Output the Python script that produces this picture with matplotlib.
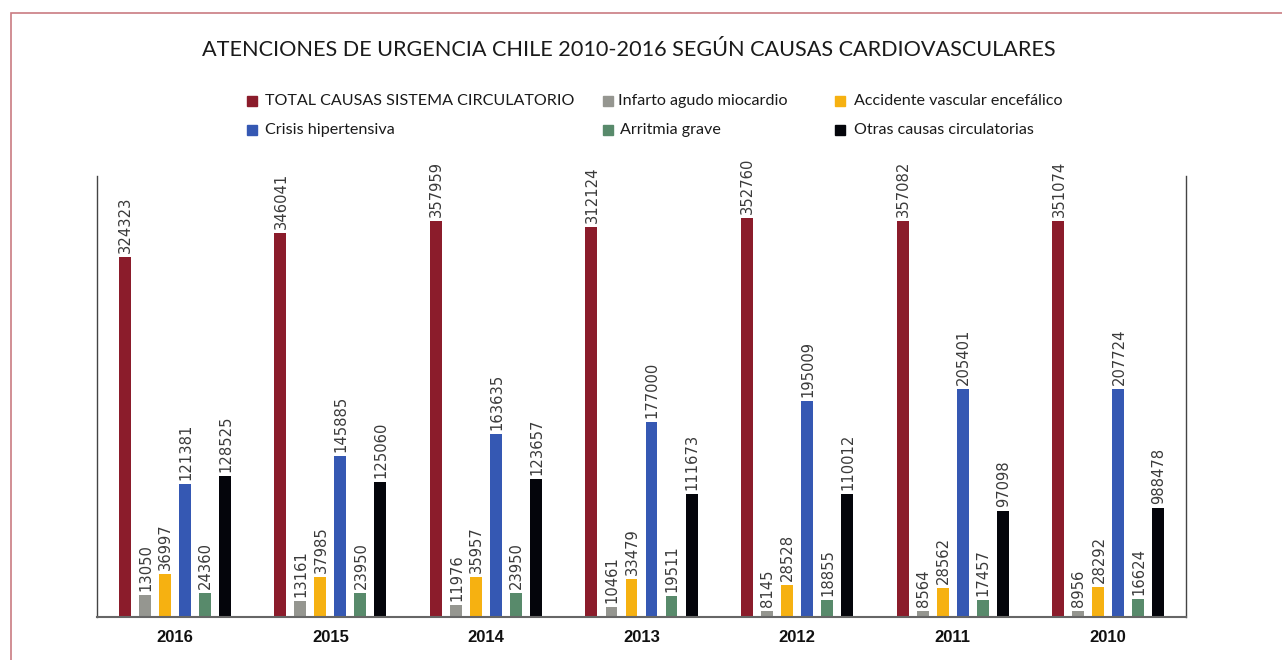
import matplotlib
matplotlib.use("Agg")
import matplotlib.pyplot as plt
import numpy as np
from matplotlib.patches import Rectangle

# categories
YEARS = ["2016", "2015", "2014", "2013", "2012", "2011", "2010"]
SERIES = [
    "TOTAL CAUSAS SISTEMA CIRCULATORIO",
    "Infarto agudo miocardio",
    "Accidente vascular encefálico",
    "Crisis hipertensiva",
    "Arritmia grave",
    "Otras causas circulatorias",
]
COLORS = ["#8b1c2b", "#959690", "#f6b111", "#3558b3", "#588a6b", "#04050b"]

# numbers printed above the bars
LBL_TOTAL = ["324323", "346041", "357959", "312124", "352760", "357082", "351074"]
LBL_INFARTO = ["13050", "13161", "11976", "10461", "8145", "8564", "8956"]
LBL_AVE = ["36997", "37985", "35957", "33479", "28528", "28562", "28292"]
LBL_CRISIS = ["121381", "145885", "163635", "177000", "195009", "205401", "207724"]
LBL_ARRITMIA = ["24360", "23950", "23950", "19511", "18855", "17457", "16624"]
LBL_OTRAS = ["128525", "125060", "123657", "111673", "110012", "97098", "988478"]

# bar lengths as drawn in the original (they don't always agree with the printed numbers)
H_TOTAL = [324300, 345900, 356400, 351300, 359100, 356400, 356400]
H_INFARTO = [20100, 14700, 11100, 9300, 5900, 5700, 5700]
H_AVE = [38900, 36500, 36200, 34400, 29000, 26400, 27300]
H_CRISIS = [120200, 145300, 164900, 175600, 194500, 205300, 205300]
H_ARRITMIA = [21900, 21900, 22100, 19200, 15600, 15600, 16500]
H_OTRAS = [127400, 121700, 124400, 110900, 110900, 95600, 98300]

heights = [H_TOTAL, H_INFARTO, H_AVE, H_CRISIS, H_ARRITMIA, H_OTRAS]
labels = [LBL_TOTAL, LBL_INFARTO, LBL_AVE, LBL_CRISIS, LBL_ARRITMIA, LBL_OTRAS]

W, H = 1282, 660
fig = plt.figure(figsize=(W / 100, H / 100), dpi=100)
ax = fig.add_axes([97 / W, (H - 617.3) / H, (1186 - 97) / W, (617.3 - 176) / H])

x = np.arange(len(YEARS))
pitch, bw = 0.1286, 0.077
for i, (hs, lbs, col) in enumerate(zip(heights, labels, COLORS)):
    xs = x + (i - 2.5) * pitch
    ax.bar(xs, hs, width=bw, color=col, zorder=2)
    for xi, h, lb in zip(xs, hs, lbs):
        ax.annotate(lb, (xi, h), xytext=(0.5, 2.8), textcoords="offset points",
                    rotation=90, ha="center", va="bottom", fontsize=10.6,
                    color="#3a3a3a", family="DejaVu Sans")

ax.set_xlim(-0.5, len(YEARS) - 0.5)
ax.set_ylim(0, 396900)
ax.set_yticks([])
ax.set_xticks(x, YEARS)
ax.tick_params(axis="x", length=0, pad=9)
for t in ax.get_xticklabels():
    t.set_fontfamily("Liberation Sans")
    t.set_fontweight("bold")
    t.set_fontsize(12)
    t.set_color("#111111")
ax.spines["top"].set_visible(False)
for s in ("left", "right"):
    ax.spines[s].set_color("#444444")
    ax.spines[s].set_linewidth(1.0)
ax.spines["bottom"].set_color("#666666")
ax.spines["bottom"].set_linewidth(1.5)

# title
fig.text(629 / W, 1 - 50 / H, "ATENCIONES DE URGENCIA CHILE 2010-2016 SEGÚN CAUSAS CARDIOVASCULARES",
         ha="center", va="center", fontsize=15.6, family="Lato", color="#1a1a1a")

# legend, laid out by hand like the original
leg_pos = [(247, 101, 265), (603, 101, 618), (835, 101, 854),
           (247, 130, 265), (603, 130, 620), (835, 130, 854)]
for k, (mx, my, tx) in enumerate(leg_pos):
    fig.add_artist(Rectangle((mx / W, 1 - (my + 5) / H), 10 / W, 10 / H,
                             transform=fig.transFigure, color=COLORS[k]))
    fig.text(tx / W, 1 - my / H, SERIES[k], ha="left", va="center",
             fontsize=11.6, family="Lato", color="#1a1a1a")

# reddish frame around the graphic
fig.add_artist(Rectangle((11 / W, -0.05), 1.2, 1 - 13 / H + 0.05, transform=fig.transFigure,
                         fill=False, edgecolor="#c97c82", linewidth=1.2))

fig.savefig("out.png", dpi=100)
